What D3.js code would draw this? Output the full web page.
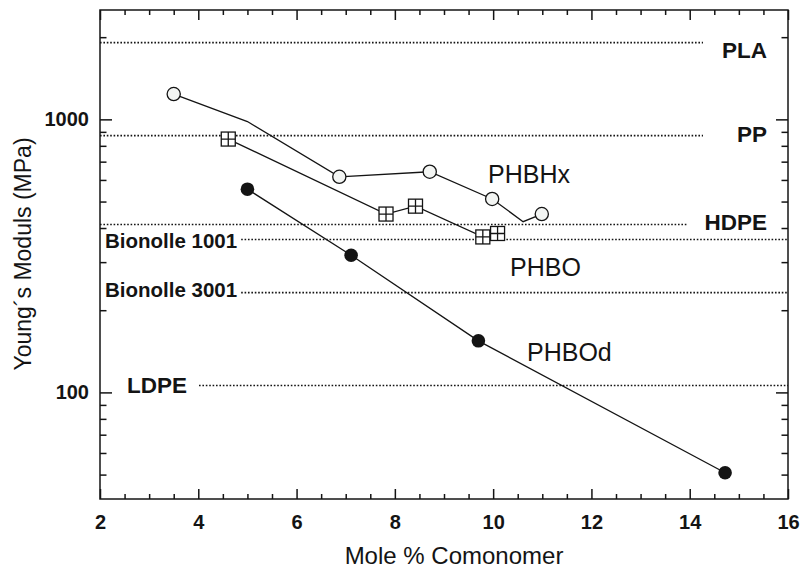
<!DOCTYPE html>
<html>
<head>
<meta charset="utf-8">
<script src="https://cdn.jsdelivr.net/npm/d3@7/dist/d3.min.js"></script>
<style>
  html, body { margin: 0; padding: 0; background: #fff; }
  svg { display: block; font-family: "Liberation Sans", Arial, Helvetica, sans-serif; }
</style>
</head>
<body>
<svg id="chart" width="801" height="568"></svg>
<script>
// Young's modulus vs comonomer content for PHA copolymers, with commodity references

// PHBHx (open circles); the 5.0 and 10.6 entries are bends in the trace with no marker
const phbhxMole    = [3.5, 5.0, 6.87, 8.71, 9.98, 10.61, 10.99];
const phbhxModulus = [1238, 982, 616, 643, 511, 422, 450];
const phbhxMarked  = [true, false, true, true, true, false, true];

// PHBO (boxed-cross squares)
const phboMole    = [4.61, 7.82, 8.42, 9.79, 10.09];
const phboModulus = [847, 450, 481, 371, 382];

// PHBOd (filled circles)
const phbodMole    = [5.0, 7.11, 9.70, 14.72];
const phbodModulus = [555, 318, 154.5, 50.8];

// Reference materials (horizontal dotted levels)
const refNames   = ["PLA", "PP", "HDPE", "Bionolle 1001", "Bionolle 3001", "LDPE"];
const refModulus = [1910, 872, 412, 363, 232, 106];

// Axis ticks
const xMajorTicks = [2, 4, 6, 8, 10, 12, 14, 16];
const yMajorTicks = [100, 1000];
const yMinorTicks = [50, 60, 70, 80, 90, 200, 300, 400, 500, 600, 700, 800, 900, 2000];

const svg = d3.select("#chart");
const plotLeft = 100, plotRight = 788, plotTop = 10, plotBottom = 499;
const ink = "#141414";

const x = d3.scaleLinear().domain([2, 16]).range([plotLeft, plotRight]);
const y = d3.scaleLog().domain([40.7, 2515]).range([plotBottom, plotTop]);

const xMinorTicks = d3.range(2.5, 16, 0.5).filter(v => v % 2 !== 0);

// ---- axes (ticks point inward on all four sides) ----
function styleAxis(g) {
  g.select(".domain").remove();
  g.selectAll(".tick line").attr("stroke", ink).attr("stroke-width", 1.5);
}
function styleLabels(g) {
  g.selectAll("text").attr("fill", ink).style("font-size", "20px").style("font-weight", "bold")
    .style("font-family", '"Liberation Sans", Arial, sans-serif');
}
svg.append("g").attr("transform", `translate(0,${plotBottom})`)
  .call(d3.axisBottom(x).tickValues(xMajorTicks).tickSizeInner(-10).tickPadding(16).tickFormat(d3.format("d")))
  .call(styleAxis).call(styleLabels);
svg.append("g").attr("transform", `translate(0,${plotBottom})`)
  .call(d3.axisBottom(x).tickValues(xMinorTicks).tickSizeInner(-5).tickFormat(""))
  .call(styleAxis);
svg.append("g").attr("transform", `translate(0,${plotTop})`)
  .call(d3.axisTop(x).tickValues(xMajorTicks).tickSizeInner(-10).tickFormat(""))
  .call(styleAxis);
svg.append("g").attr("transform", `translate(0,${plotTop})`)
  .call(d3.axisTop(x).tickValues(xMinorTicks).tickSizeInner(-5).tickFormat(""))
  .call(styleAxis);

svg.append("g").attr("transform", `translate(${plotLeft},0)`)
  .call(d3.axisLeft(y).tickValues(yMajorTicks).tickSizeInner(-12).tickPadding(11).tickFormat(d3.format("d")))
  .call(styleAxis).call(styleLabels);
svg.append("g").attr("transform", `translate(${plotLeft},0)`)
  .call(d3.axisLeft(y).tickValues(yMinorTicks).tickSizeInner(-6.5).tickFormat(""))
  .call(styleAxis);
svg.append("g").attr("transform", `translate(${plotRight},0)`)
  .call(d3.axisRight(y).tickValues(yMajorTicks).tickSizeInner(-12).tickFormat(""))
  .call(styleAxis);
svg.append("g").attr("transform", `translate(${plotRight},0)`)
  .call(d3.axisRight(y).tickValues(yMinorTicks).tickSizeInner(-6.5).tickFormat(""))
  .call(styleAxis);

// ---- reference levels ----
// label placement: right-hand labels end at tx; left-hand labels start at tx
const refLayout = {
  "PLA":           { anchor: "end",   tx: 767, dy: 15.6, size: 22.5, x1: plotLeft, x2: 703 },
  "PP":            { anchor: "end",   tx: 767, dy: 6.2,  size: 22.5, x1: plotLeft, x2: 703 },
  "HDPE":          { anchor: "end",   tx: 767, dy: 5.8,  size: 22.5, x1: plotLeft, x2: 687 },
  "Bionolle 1001": { anchor: "start", tx: 105, dy: 8.5,  size: 20.5, gap: 4 },
  "Bionolle 3001": { anchor: "start", tx: 105, dy: 4.6,  size: 20.5, gap: 4 },
  "LDPE":          { anchor: "start", tx: 127, dy: 7.2,  size: 22.5, gap: 12 }
};

const refGroup = svg.append("g");
refNames.forEach((name, i) => {
  const lay = refLayout[name];
  const ly = y(refModulus[i]);
  const label = refGroup.append("text")
    .attr("x", lay.tx).attr("y", ly + lay.dy)
    .attr("text-anchor", lay.anchor)
    .attr("fill", ink)
    .style("font-size", lay.size + "px").style("font-weight", "bold")
    .text(name);
  let x1 = lay.x1, x2 = lay.x2;
  if (lay.anchor === "start") {
    x1 = lay.tx + label.node().getComputedTextLength() + lay.gap;
    x2 = plotRight;
  }
  refGroup.insert("line", "text")
    .attr("x1", x1).attr("x2", x2).attr("y1", ly).attr("y2", ly)
    .attr("stroke", ink).attr("stroke-width", 1.6)
    .attr("stroke-dasharray", "1.6 1.8");
});

// ---- series ----
const line = d3.line().x(d => x(d[0])).y(d => y(d[1]));
const lineStyle = p => p.attr("fill", "none").attr("stroke", ink).attr("stroke-width", 1.3);

const phbhx = phbhxMole.map((m, i) => [m, phbhxModulus[i], phbhxMarked[i]]);
const phbo  = phboMole.map((m, i) => [m, phboModulus[i]]);
const phbod = phbodMole.map((m, i) => [m, phbodModulus[i]]);

svg.append("path").datum(phbhx).attr("d", line).call(lineStyle);
svg.append("path").datum(phbo).attr("d", line).call(lineStyle);
svg.append("path").datum(phbod).attr("d", line).call(lineStyle);

svg.append("g").selectAll("circle").data(phbhx.filter(d => d[2])).join("circle")
  .attr("cx", d => x(d[0])).attr("cy", d => y(d[1])).attr("r", 6.6)
  .attr("fill", "#f3f5f3").attr("stroke", ink).attr("stroke-width", 1.3);

const s = 14;
const boxes = svg.append("g").selectAll("g").data(phbo).join("g")
  .attr("transform", d => `translate(${x(d[0])},${y(d[1])})`);
boxes.append("rect").attr("x", -s / 2).attr("y", -s / 2).attr("width", s).attr("height", s)
  .attr("fill", "#fff").attr("stroke", ink).attr("stroke-width", 1.3);
boxes.append("path").attr("d", `M${-s / 2},0H${s / 2}M0,${-s / 2}V${s / 2}`)
  .attr("stroke", ink).attr("stroke-width", 1.3);

svg.append("g").selectAll("circle").data(phbod).join("circle")
  .attr("cx", d => x(d[0])).attr("cy", d => y(d[1])).attr("r", 6.8)
  .attr("fill", ink);

// series names
const seriesLabels = [
  { text: "PHBHx", px: 488, py: 183 },
  { text: "PHBO",  px: 510, py: 276 },
  { text: "PHBOd", px: 527, py: 361 }
];
svg.append("g").selectAll("text").data(seriesLabels).join("text")
  .attr("x", d => d.px).attr("y", d => d.py)
  .attr("fill", ink).style("font-size", "25px")
  .text(d => d.text);

// ---- frame ----
svg.append("rect").attr("x", plotLeft).attr("y", plotTop)
  .attr("width", plotRight - plotLeft).attr("height", plotBottom - plotTop)
  .attr("fill", "none").attr("stroke", ink).attr("stroke-width", 1.5);

// ---- axis titles ----
svg.append("text").attr("x", 454).attr("y", 564)
  .attr("text-anchor", "middle").attr("fill", ink).style("font-size", "24px")
  .text("Mole % Comonomer");
svg.append("text").attr("transform", "translate(31,254) rotate(-90)")
  .attr("text-anchor", "middle").attr("fill", ink).style("font-size", "23px")
  .text("Young´s Moduls (MPa)");
</script>
</body>
</html>
